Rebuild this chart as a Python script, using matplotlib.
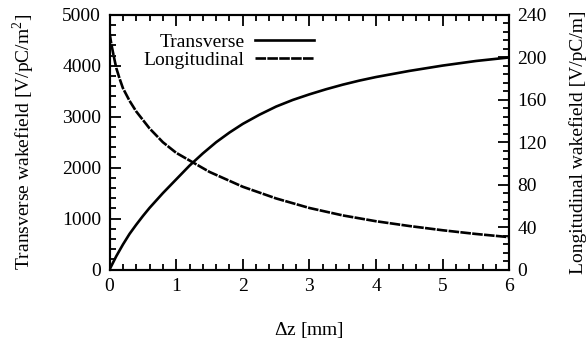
import matplotlib
matplotlib.use('Agg')
import matplotlib.pyplot as plt
from matplotlib.ticker import MultipleLocator

plt.rcParams['font.family'] = ['Liberation Serif', 'DejaVu Serif']
plt.rcParams['mathtext.fontset'] = 'custom'
plt.rcParams['mathtext.rm'] = 'Liberation Serif'

# transverse wake (left axis, V/pC/m^2)
z_tr = [0, 0.1, 0.2, 0.3, 0.4, 0.5, 0.6, 0.8, 1.0, 1.2, 1.4, 1.6, 1.8, 2.0, 2.25, 2.5,
        2.75, 3.0, 3.25, 3.5, 3.75, 4.0, 4.5, 5.0, 5.5, 6.0]
w_tr = [0, 260, 490, 700, 880, 1050, 1210, 1500, 1770, 2040, 2280, 2500, 2690, 2860, 3040, 3200,
        3330, 3440, 3540, 3630, 3710, 3780, 3900, 4005, 4095, 4165]

# longitudinal wake (right axis, V/pC/m)
z_lo = [0, 0.025, 0.05, 0.1, 0.15, 0.2, 0.3, 0.4, 0.5, 0.6, 0.8, 1.0, 1.25, 1.5, 1.75, 2.0,
        2.25, 2.5, 2.75, 3.0, 3.5, 4.0, 4.5, 5.0, 5.5, 6.0]
w_lo = [223, 213, 205, 190, 180, 171, 159, 149, 141, 133, 120, 110, 101, 92, 85, 78,
        72.5, 67, 62.5, 58, 51, 45.5, 41, 37, 33.5, 30.5]

fig = plt.figure(figsize=(5.86, 3.39), dpi=100)
ax = fig.add_axes([0.187, 0.205, 0.682, 0.751])
ax2 = ax.twinx()

l1, = ax.plot(z_tr, w_tr, color='black', lw=1.9, label='Transverse')
l2, = ax2.plot(z_lo, w_lo, color='black', lw=1.9, ls=(0, (4, 0.5)), label='Longitudinal')

ax.set_xlim(0, 6)
ax.set_ylim(0, 5000)
ax2.set_ylim(0, 240)
ax.xaxis.set_major_locator(MultipleLocator(1))
ax.xaxis.set_minor_locator(MultipleLocator(0.2))
ax.yaxis.set_major_locator(MultipleLocator(1000))
ax.yaxis.set_minor_locator(MultipleLocator(200))
ax2.yaxis.set_major_locator(MultipleLocator(40))
ax2.yaxis.set_minor_locator(MultipleLocator(8))

fs = 14
ax.tick_params(which='both', direction='in', top=True, labelsize=fs, width=1.3)
ax.tick_params(which='major', length=8, pad=6)
ax.tick_params(which='minor', length=4)
ax2.tick_params(which='both', direction='in', labelsize=fs, width=1.3)
ax2.tick_params(which='major', length=8, pad=6)
ax2.tick_params(which='minor', length=4)
for a in (ax, ax2):
    for s in a.spines.values():
        s.set_linewidth(1.5)

ax.set_xlabel(r'$\Delta$z [mm]', fontsize=fs, labelpad=18)
ax.set_ylabel(r'Transverse wakefield [V/pC/m$^2$]', fontsize=fs, labelpad=18)
ax2.set_ylabel('Longitudinal wakefield [V/pC/m]', fontsize=fs, labelpad=16)

ax.legend(handles=[l1, l2], loc='upper right', bbox_to_anchor=(0.545, 0.98),
          frameon=False, markerfirst=False, fontsize=fs, handlelength=3.0,
          handletextpad=0.55, labelspacing=0.0, borderpad=0.2)

fig.savefig('out.png', dpi=100)
